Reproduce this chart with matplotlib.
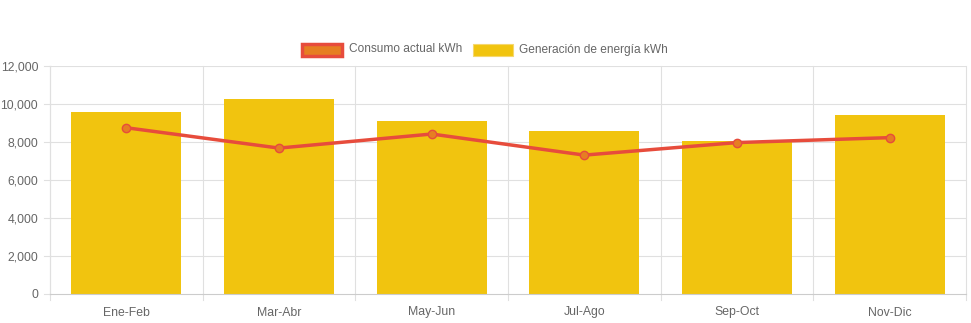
import matplotlib.pyplot as plt
import numpy as np
from matplotlib.patches import Rectangle

plt.rcParams["font.family"] = ["Liberation Sans", "DejaVu Sans"]

categories = ["Ene-Feb", "Mar-Abr", "May-Jun", "Jul-Ago", "Sep-Oct", "Nov-Dic"]
generacion = [9560, 10240, 9110, 8570, 8050, 9420]
consumo = [8750, 7680, 8420, 7310, 7970, 8230]
yticks = [0, 2000, 4000, 6000, 8000, 10000, 12000]

W, H = 971, 323
fig = plt.figure(figsize=(W / 100, H / 100), dpi=100)
left, right, top, bottom = 50, 966, 66, 294
ax = fig.add_axes([left / W, 1 - bottom / H, (right - left) / W, (bottom - top) / H])

x = np.arange(len(categories))
ax.bar(x, generacion, width=0.72, color="#F1C40F", zorder=2)
ax.plot(x, consumo, color="#E74C3C", lw=2.5, marker="o", ms=6,
        mfc="#E67E22", mec="#E74C3C", mew=1, zorder=3)

ax.set_xlim(-0.5, len(categories) - 0.5)
ax.set_ylim(0, 12000)
ax.set_yticks(yticks)
ax.set_yticklabels([f"{v:,}" for v in yticks])
ax.set_xticks(x)
ax.set_xticklabels(categories)
ax.tick_params(axis="both", colors="#666666", labelsize=8.8, length=0)
ax.tick_params(axis="x", pad=9)
ax.tick_params(axis="y", pad=8.5)

grid = "#e0e0e0"
for v in yticks[1:]:
    ax.axhline(v, color=grid, lw=0.8, zorder=1)
for b in np.arange(-0.5, len(categories), 1.0):
    ax.plot([b, b], [0, 12000], color=grid, lw=0.8, zorder=1, clip_on=False)
    ax.plot([b, b], [0, -330], color=grid, lw=0.8, clip_on=False)
for v in yticks:
    ax.plot([-0.5 - 0.04, -0.5], [v, v], color=grid, lw=0.8, clip_on=False)
for s in ["top", "right"]:
    ax.spines[s].set_visible(False)
ax.spines["left"].set_color(grid)
ax.spines["left"].set_linewidth(0.8)
ax.spines["bottom"].set_color("#cccccc")
ax.spines["bottom"].set_linewidth(0.8)

# legend
ly = 1 - 49.5 / H
bw, bh = 40 / W, 12 / H
fig.patches.append(Rectangle((302 / W, ly - bh / 2), bw, bh, transform=fig.transFigure,
                             facecolor="#E67E22", edgecolor="#E74C3C", lw=2.5))
fig.text(349 / W, ly, "Consumo actual kWh", fontsize=8.6, color="#666666", va="center")
fig.patches.append(Rectangle((473 / W, ly - bh / 2), bw, bh, transform=fig.transFigure,
                             facecolor="#F1C40F", edgecolor="#F5D76E", lw=0.8))
fig.text(519 / W, ly, "Generación de energía kWh", fontsize=8.6, color="#666666", va="center")

fig.savefig("out.png", dpi=100)
